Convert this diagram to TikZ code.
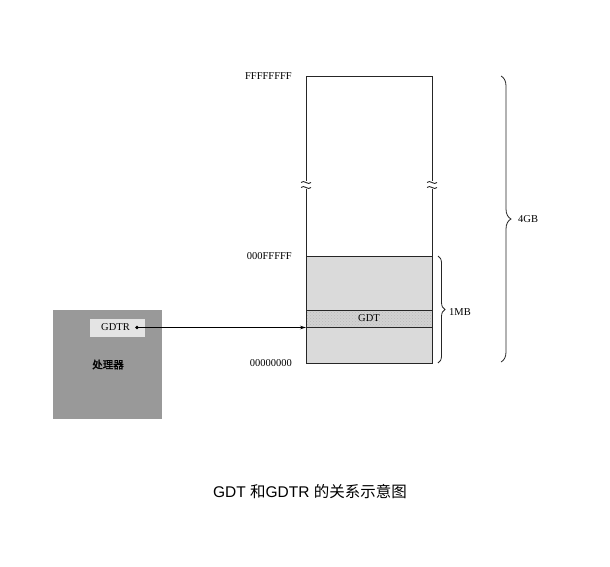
\documentclass[tikz,border=0pt]{standalone}
\usepackage{fontspec}
\setmainfont{Liberation Serif}
\newfontfamily\capfont{Liberation Sans}
\newfontfamily\cjk{Noto Sans CJK SC}
\newfontfamily\cjkb[FakeBold=1.5]{Noto Sans CJK SC}
\usetikzlibrary{decorations.pathreplacing,arrows.meta,patterns}
\definecolor{procgray}{HTML}{999999}
\definecolor{regbox}{HTML}{E4E4E4}
\definecolor{memfill}{HTML}{DADADA}
\definecolor{gdtfill}{HTML}{D2D2D2}
\tikzset{
  lbl/.style={font=\fontsize{10.5}{12}\selectfont, inner sep=0pt},
  memline/.style={draw=black!85, line width=0.8pt},
  brk/.style={draw=black!85, line width=0.9pt},
  bracestyle/.style={draw=black!85, line width=0.8pt, decorate},
}
\begin{document}
\begin{tikzpicture}[x=1pt,y=-1pt]
\useasboundingbox (0,0) rectangle (610,566);
% memory regions
\fill[memfill] (306,256) rectangle (432,363);
\fill[gdtfill] (306,310) rectangle (432,327.5);
\fill[pattern=crosshatch dots, pattern color=gray!55] (306,310) rectangle (432,327.5);
\node[lbl] (gdt) at (369,318.5) {GDT};
\coordinate (memtl) at (306,76);
\coordinate (memtr) at (432,76);
\coordinate (membl) at (306,363);
\coordinate (membr) at (432,363);
\coordinate (memml) at (306,256);
\coordinate (memmr) at (432,256);
\coordinate (gdttl) at (306,310);
\coordinate (gdttr) at (432,310);
\coordinate (gdtbl) at (306,327.5);
\coordinate (gdtbr) at (432,327.5);
% outline
\draw[memline] (306,181) -- (memtl) -- (memtr) -- (432,181);
\draw[memline] (306,189) -- (membl) -- (membr) -- (432,189);
\draw[memline] (memml) -- (memmr);
\draw[memline] (gdttl) -- (gdttr);
\draw[memline] (gdtbl) -- (gdtbr);
% break marks
\foreach \bx in {306,432}{
  \draw[brk] (\bx-5,182.5) .. controls (\bx-2,179) and (\bx+2,186) .. (\bx+5,182.5);
  \draw[brk] (\bx-5,187.5) .. controls (\bx-2,184) and (\bx+2,191) .. (\bx+5,187.5);
}
% address labels
\node[lbl, anchor=east] (aff) at (292,76) {FFFFFFFF};
\node[lbl, anchor=east] (a1m) at (292,256) {000FFFFF};
\node[lbl, anchor=east] (a0) at (292,363) {00000000};
% braces
\draw[bracestyle, decoration={brace, amplitude=7pt}] (438,256) -- (438,363);
\node[lbl, anchor=west] (mb) at (449,312) {1MB};
\draw[bracestyle, decoration={brace, amplitude=10pt}] (501,76) -- (501,362);
\node[lbl, anchor=west] (gb) at (518,219) {4GB};
% processor
\node[fill=procgray, minimum width=109pt, minimum height=109pt, inner sep=0pt, anchor=north west] (proc) at (53,309.5) {};
\node[fill=regbox, minimum width=55pt, minimum height=18.5pt, inner sep=0pt, anchor=north west] (gdtr) at (89.5,318.3) {};
\node[lbl] (gdtrtxt) at (115.5,327.5) {GDTR};
\node[lbl] (proctxt) at (108,364.5) {\cjkb 处理器};
\coordinate (dot) at (137,327.5);
\fill[black] (dot) circle (1.9pt);
\draw[line width=0.8pt, -{Stealth[length=6pt,width=3.5pt]}] (dot) -- (gdtbl);
% caption
\node[font=\fontsize{15.5}{18}\selectfont, inner sep=0pt] (cap) at (310,492) {\capfont GDT \cjk 和\capfont GDTR \cjk 的关系示意图};
\end{tikzpicture}
\end{document}
